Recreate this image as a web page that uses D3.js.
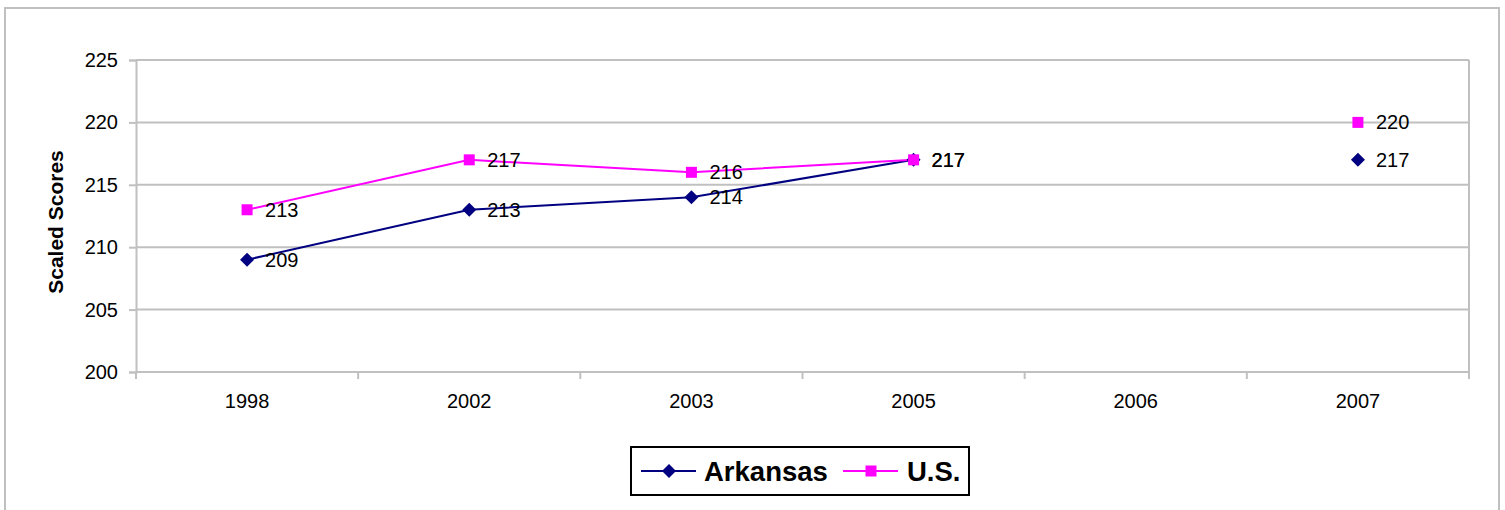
<!DOCTYPE html>
<html>
<head>
<meta charset="utf-8">
<script src="https://cdn.jsdelivr.net/npm/d3@7"></script>
<style>
  body { margin: 0; background: #fff; }
  svg { display: block; font-family: "Liberation Sans", Arial, sans-serif; }
</style>
</head>
<body>
<svg id="chart" width="1505" height="510"></svg>
<script>
// data
const years = ["1998", "2002", "2003", "2005", "2006", "2007"];
const arkansas = [209, 213, 214, 217, null, 217];
const us = [213, 217, 216, 217, null, 220];
const yTicks = [200, 205, 210, 215, 220, 225];

const svg = d3.select("#chart");
const plot = { left: 136, top: 60, right: 1469, bottom: 372 };

// outer chart border
svg.append("rect")
  .attr("x", 5).attr("y", 8)
  .attr("width", 1494).attr("height", 520)
  .attr("fill", "none").attr("stroke", "#c0c0c0").attr("stroke-width", 2);

const x = d3.scaleBand().domain(years).range([plot.left, plot.right]);
const y = d3.scaleLinear().domain([200, 225]).range([plot.bottom, plot.top]);

// gridlines
svg.append("g").selectAll("line")
  .data(yTicks.filter(t => t > 200))
  .join("line")
    .attr("x1", plot.left).attr("x2", plot.right)
    .attr("y1", d => y(d)).attr("y2", d => y(d))
    .attr("stroke", "#c0c0c0").attr("stroke-width", 2);

// right edge of plot area
svg.append("line")
  .attr("x1", plot.right).attr("x2", plot.right)
  .attr("y1", plot.top).attr("y2", plot.bottom)
  .attr("stroke", "#c0c0c0").attr("stroke-width", 2);

// y axis
const yAxis = svg.append("g")
  .attr("transform", `translate(${plot.left},0)`)
  .call(d3.axisLeft(y).tickValues(yTicks).tickSize(7).tickPadding(11));
yAxis.select(".domain").attr("stroke", "#c0c0c0").attr("stroke-width", 2);
yAxis.selectAll(".tick line").attr("stroke", "#c0c0c0").attr("stroke-width", 2);
yAxis.selectAll("text").attr("font-size", 20).attr("fill", "#000")
  .attr("font-family", "Liberation Sans, Arial, sans-serif");

// x axis: ticks sit between categories
const xAxis = svg.append("g")
  .attr("transform", `translate(0,${plot.bottom})`);
xAxis.append("line")
  .attr("x1", plot.left).attr("x2", plot.right)
  .attr("stroke", "#c0c0c0").attr("stroke-width", 2);
const edges = years.map(d => x(d)).concat([x(years[years.length - 1]) + x.bandwidth()]);
xAxis.selectAll(".tk").data(edges).join("line")
  .attr("class", "tk")
  .attr("x1", d => d).attr("x2", d => d)
  .attr("y1", 0).attr("y2", 7)
  .attr("stroke", "#c0c0c0").attr("stroke-width", 2);
xAxis.selectAll(".lbl").data(years).join("text")
  .attr("class", "lbl")
  .attr("x", d => x(d) + x.bandwidth() / 2)
  .attr("y", 29)
  .attr("dy", "0.35em")
  .attr("text-anchor", "middle")
  .attr("font-size", 20)
  .text(d => d);

// y axis title
svg.append("text")
  .attr("transform", "translate(56,222) rotate(-90)")
  .attr("text-anchor", "middle")
  .attr("dy", "0.35em")
  .attr("font-size", 21)
  .attr("font-weight", "bold")
  .text("Scaled Scores");

const cx = d => x(d) + x.bandwidth() / 2;

const series = [
  { name: "Arkansas", values: arkansas, color: "#000080", shape: d3.symbolDiamond2, size: 125 },
  { name: "U.S.", values: us, color: "#ff00ff", shape: d3.symbolSquare, size: 121 }
];

series.forEach(s => {
  const pts = years.map((yr, i) => ({ yr, v: s.values[i] }));
  const line = d3.line()
    .defined(d => d.v != null)
    .x(d => cx(d.yr))
    .y(d => y(d.v));
  svg.append("path")
    .datum(pts)
    .attr("d", line)
    .attr("fill", "none")
    .attr("stroke", s.color)
    .attr("stroke-width", 2);
});

series.forEach(s => {
  const pts = years.map((yr, i) => ({ yr, v: s.values[i] })).filter(d => d.v != null);
  const sym = d3.symbol().type(s.shape).size(s.size);
  svg.append("g").selectAll("path")
    .data(pts)
    .join("path")
      .attr("d", sym)
      .attr("transform", d => `translate(${cx(d.yr)},${y(d.v)})`)
      .attr("fill", s.color);
  svg.append("g").selectAll("text")
    .data(pts)
    .join("text")
      .attr("x", d => cx(d.yr) + 18)
      .attr("y", d => y(d.v))
      .attr("dy", "0.35em")
      .attr("font-size", 20)
      .text(d => d.v);
});

// legend
const lg = svg.append("g").attr("transform", "translate(631,447)");
lg.append("rect")
  .attr("width", 338).attr("height", 48)
  .attr("fill", "#fff").attr("stroke", "#000").attr("stroke-width", 2);
const legendItems = [
  { s: series[0], x0: 10, tx: 73 },
  { s: series[1], x0: 212, tx: 276 }
];
legendItems.forEach(it => {
  const g = lg.append("g").attr("transform", `translate(${it.x0},24)`);
  g.append("line").attr("x1", 0).attr("x2", 55)
    .attr("stroke", it.s.color).attr("stroke-width", 2);
  g.append("path")
    .attr("d", d3.symbol().type(it.s.shape).size(it.s.size))
    .attr("transform", "translate(28,0)")
    .attr("fill", it.s.color);
  lg.append("text")
    .attr("x", it.tx).attr("y", 24)
    .attr("dy", "0.35em")
    .attr("font-size", 27.5)
    .attr("font-weight", "bold")
    .text(it.s.name);
});
</script>
</body>
</html>
